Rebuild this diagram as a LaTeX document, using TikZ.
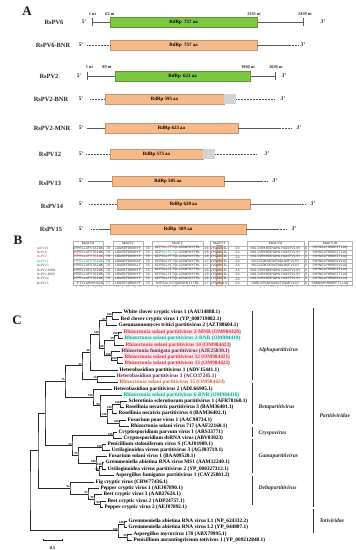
\documentclass[tikz,border=0pt]{standalone}
\usepackage{fontspec}
\setmainfont{Liberation Serif}
\setmonofont{Liberation Mono}
\usetikzlibrary{calc}
\definecolor{rdgreen}{HTML}{7DC843}
\definecolor{rdorange}{HTML}{F6B98A}
\definecolor{rdgrey}{HTML}{D3D3D3}
\definecolor{rsred}{HTML}{D2383A}
\definecolor{rspink}{HTML}{FDE3EA}
\definecolor{rsteal}{HTML}{1FA88C}
\definecolor{rscyan}{HTML}{DDF8F8}
\definecolor{rspurple}{HTML}{6B1F4F}
\definecolor{rsorange}{HTML}{D9602A}
\newcommand\leaf[5][]{\coordinate (#2) at ({#3-1},#4);\node[tx,#1] (#2-t) at (#3,#4) {#5};}
\newcommand\jn[5][]{\path let \p1=(#4), \p2=(#5) in (#3pt,{(\y1+\y2)/2}) coordinate (#2);%
  \draw[br] (#4) -| (#2) |- (#5);%
  \if\relax\detokenize{#1}\relax\else\node[bs] (#2-bs) at (#2) {#1};\fi}
\newcommand\arow[9]{%
  \pgfmathsetmacro\ry{248+4.4*(#1-1)}%
  \node[alab,#9] (r#1-l) at (37,\ry) {#2};%
  \foreach \xa/\xb in {73/103,103/113,113/143,143/152,152/203,203/210,210/228,228/247,247/304,304/308,308/352}{\draw[cell] (\xa,{\ry-2.2}) rectangle (\xb,{\ry+2.2});}%
  \node[al] (r#1-b1) at (88,\ry) {#3};%
  \node[al] (r#1-b2) at (128,\ry) {#4};%
  \node[al] (r#1-b3) at (177.5,\ry) {#5};%
  \node[al] (r#1-b4) at (219,\ry) {#6};%
  \node[al] (r#1-b5) at (275.5,\ry) {#7};%
  \node[al] (r#1-b6) at (330,\ry) {#8};}
\newcommand\agap[6]{%
  \pgfmathsetmacro\ry{248+4.4*(#1-1)}%
  \node[al] (r#1-g1) at (108,\ry) {#2};%
  \node[al] (r#1-g2) at (147.5,\ry) {#3};%
  \node[al] (r#1-g3) at (206.5,\ry) {#4};%
  \node[al] (r#1-g4) at (237.5,\ry) {#5};%
  \node[al] (r#1-g5) at (306,\ry) {#6};}
\begin{document}
\begin{tikzpicture}[x=1pt,y=-1pt,
  gl/.style={draw=black!65, line width=0.55pt},
  dl/.style={gl, dash pattern=on 0.9pt off 0.6pt},
  tl/.style={draw=black!55, line width=0.9pt},
  gbox/.style={fill=rdgreen, draw=rdgreen!75!black, line width=0.3pt, minimum height=10pt, inner sep=0pt, font=\fontsize{4.9}{5}\selectfont\bfseries},
  obox/.style={fill=rdorange, draw=rdorange!80!black, line width=0.3pt, minimum height=10pt, inner sep=0pt, font=\fontsize{4.9}{5}\selectfont\bfseries},
  ybox/.style={fill=rdgrey, draw=none, minimum height=10pt, inner sep=0pt},
  glab/.style={font=\fontsize{6.4}{7}\selectfont\bfseries, text=black!85},
  fiv/.style={font=\fontsize{5.4}{6}\selectfont\bfseries, text=black!85},
  thr/.style={font=\fontsize{5.6}{6}\selectfont\bfseries\itshape, text=black!85},
  ntl/.style={font=\fontsize{4.3}{5}\selectfont\bfseries, text=black!85},
  panel/.style={font=\fontsize{13}{14}\selectfont\bfseries, text=black!90},
  alab/.style={anchor=west, font=\fontsize{3.4}{3.5}\selectfont, text=black!75, inner sep=0pt},
  al/.style={font=\fontsize{3.6}{3.6}\ttfamily, text=black!75, inner sep=0pt},
  cell/.style={draw=black!30, line width=0.15pt},
  mot/.style={font=\fontsize{3.2}{3.5}\selectfont\bfseries, text=black!70, inner sep=0pt},
  tx/.style={anchor=west, font=\fontsize{5.3}{5.5}\selectfont\bfseries, inner sep=0.4pt},
  hr/.style={text=rsred, fill=rspink},
  hg/.style={text=rsteal, fill=rscyan},
  hp/.style={text=rspurple, fill=rspink},
  ho/.style={text=rsorange},
  hpu/.style={text=rspurple},
  br/.style={draw=black!85, line width=0.45pt},
  bs/.style={font=\fontsize{3}{3}\selectfont\bfseries, inner sep=0.2pt, anchor=south east},
  brk/.style={draw=black!80, line width=0.7pt},
  clade/.style={anchor=west, font=\fontsize{5.6}{6}\selectfont\bfseries\itshape, text=black!85}]
\fill[white] (0,0) rectangle (356,550);
\useasboundingbox (0,0) rectangle (356,550);
% ================= A =================
\node[panel] (pA) at (27,11) {A};
% RsPV6
\node[glab] (l1) at (54,22) {RsPV6};
\node[fiv] (l1-5) at (84,22) {5'};
\coordinate (l1-a) at (92,22); \coordinate (l1-b) at (303,22);
\draw[gl] (l1-a) -- (l1-b);
\draw[gl] (92,18) -- (92,26); \draw[gl] (303,18) -- (303,26);
\node[gbox, minimum width=147pt] (l1-box) at (183.5,22) {RdRp\ \ 757 aa};
\node[ntl] (l1-n1) at (92.5,14.5) {1 nt};
\node[ntl] (l1-n2) at (110,14.5) {62 nt};
\node[ntl] (l1-n3) at (254,14.5) {2335 nt};
\node[ntl] (l1-n4) at (305,14.5) {2439 nt};
\node[thr] (l1-3) at (323,22) {3'};
% RsPV6-BNR
\node[glab] (l2) at (53,45) {RsPV6-BNR};
\node[fiv] (l2-5) at (81,45) {5'};
\node[obox, minimum width=147pt] (l2-box) at (183.5,45) {RdRp\ \ 757 aa};
\draw[dl] (87,45) -- (l2-box.west);
\draw[gl] (l2-box.east) -- (290,45);
\draw[dl] (290,45) -- (299,45);
\node[thr] (l2-3) at (303,45) {3'};
% RsPV2
\node[glab] (l3) at (49,76) {RsPV2};
\node[fiv] (l3-5) at (79,76) {5'};
\draw[gl] (87,76) -- (275,76);
\draw[gl] (87,72) -- (87,80); \draw[gl] (275,72) -- (275,80);
\node[gbox, minimum width=135pt] (l3-box) at (182.5,76) {RdRp\ \ 623 aa};
\node[ntl] (l3-n1) at (89.5,67.5) {1 nt};
\node[ntl] (l3-n2) at (107,67.5) {89 nt};
\node[ntl] (l3-n3) at (248,67.5) {1960 nt};
\node[ntl] (l3-n4) at (276,67.5) {2020 nt};
\node[thr] (l3-3) at (284,76) {3'};
% RsPV2-BNR
\node[glab] (l4) at (51,99.5) {RsPV2-BNR};
\node[fiv] (l4-5) at (81,99) {5'};
\node[obox, minimum width=119pt] (l4-box) at (164.5,99) {RdRp 595 aa};
\node[ybox, minimum width=12pt] (l4-g) at (230,99) {};
\draw[dl] (90,99) -- (l4-box.west);
\draw[dl] (l4-g.east) -- (275,99);
\node[thr] (l4-3) at (283,99) {3'};
% RsPV2-MNR
\node[glab] (l5) at (52,128) {RsPV2-MNR};
\node[fiv] (l5-5) at (81,128) {5'};
\node[obox, minimum width=133pt] (l5-box) at (171.5,128) {RdRp 623 aa};
\draw[gl] (87,128) -- (l5-box.west);
\draw[gl] (l5-box.east) -- (280,128);
\draw[dl] (280,128) -- (292,128);
\node[thr] (l5-3) at (299,128) {3'};
% RsPV12
\node[glab] (l6) at (50,154) {RsPV12};
\node[fiv] (l6-5) at (81,154) {5'};
\node[obox, minimum width=93pt] (l6-box) at (156.5,154) {RdRp 575 aa};
\node[ybox, minimum width=12pt] (l6-g) at (209,154) {};
\draw[dl] (86,154) -- (l6-box.west);
\draw[dl] (l6-g.east) -- (257,154);
\node[thr] (l6-3) at (267,154) {3'};
% RsPV13
\node[glab] (l7) at (50,183) {RsPV13};
\node[fiv] (l7-5) at (81,181) {5'};
\node[obox, minimum width=112pt] (l7-box) at (168,181) {RdRp 585 aa};
\draw[gl] (88,181) -- (l7-box.west);
\draw[gl] (l7-box.east) -- (262,181);
\draw[dl] (262,181) -- (268,181);
\node[thr] (l7-3) at (275,181) {3'};
% RsPV14
\node[glab] (l8) at (52,206) {RsPV14};
\node[fiv] (l8-5) at (81,204) {5'};
\node[obox, minimum width=133pt] (l8-box) at (183.5,204) {RdRp 620 aa};
\draw[dl] (89,204) -- (l8-box.west);
\draw[tl] (l8-box.east) -- (300,204);
\draw[dl] (300,204) -- (306,204);
\node[thr] (l8-3) at (313,204) {3'};
% RsPV15
\node[glab] (l9) at (51,229) {RsPV15};
\node[fiv] (l9-5) at (81,229) {5'};
\node[obox, minimum width=136pt] (l9-box) at (178,229) {RdRp\ \ 589 aa};
\draw[dl] (91,229) -- (99,229);
\draw[gl] (99,229) -- (l9-box.west);
\draw[gl] (l9-box.east) -- (278,229);
\draw[dl] (278,229) -- (287,229);
\node[thr] (l9-3) at (294,229) {3'};
% ================= B =================
\node[panel] (pB) at (18,240) {B};
\fill[orange!20] (216.3,245.6) rectangle (222.6,285.6);
\draw[brown!70, line width=0.25pt] (216.3,245.6) rectangle (222.6,285.6);
\foreach \xa/\xb/\mt/\k in {73/103/Motif III/1,113/143/Motif IV/2,152/203/Motif V/3,210/228/Motif VI/4,247/304/Motif VII/5,308/352/Motif VIII/6}{
  \draw[cell] (\xa,241) rectangle (\xb,245.6);
  \node[mot] (mh\k) at ({(\xa+\xb)/2},243.3) {\mt};}
\arow{1}{mCV1S}{DYPRLLAFVTAIWK}{LDWSRFDKKHYF}{GIP\textcolor{rsred}{SGLYTTQL}LDSWYNYTML}{VYGDDSIL}{NSLIVRKHSEVWHLYAGSFVLSY}{SHYNGLPHRDEITLAQ}{}
\agap{1}{78}{78}{16}{24}{5}
\arow{2}{RsV1S}{DYPRLLAFVTAIWK}{LDWSRFDKKHYF}{GIP\textcolor{rsteal}{SGLYTTQL}LDSWYNYTML}{VYGDDSIL}{NSLIVRKHSEVWHLYAGSFVLSY}{SHYNGLPHRDEITLAQ}{}
\agap{2}{78}{78}{16}{24}{5}
\arow{3}{RsPV2}{\textcolor{rsred}{DYPRLLAFVTAIWK}}{LDWSRFDKKHYF}{GIPSGLYTTQLLDSWYNYTML}{VYGDDSIL}{NSLIVRKHSEVWHLYAGSFVLSY}{SHYNGLPHRDEITLAQ}{text=rsred}
\agap{3}{78}{78}{16}{24}{5}
\arow{4}{RsPV12}{\textcolor{rsteal}{DYPRLLAFVTAIWK}}{LDWARFDKKHAF}{GIPSGLYITQLLDSWYNYTML}{VVGDDSIL}{NSIISDKSEVWTNDLNGFVLSY}{SHYNGLPHRDESVLAQ}{text=rsteal}
\agap{4}{76}{78}{17}{24}{5}
\arow{5}{RsPV13}{DYPRLLAFVTALWK}{LDWSRFDKKALF}{GIPSGLYITQLLDSWYNYTML}{VVGDDSIL}{NSIISDKSEVWTNDLNGFVLSY}{SHYNGLPHRDESVLAQ}{}
\agap{5}{76}{78}{17}{24}{5}
\arow{6}{RsPV2-MNR}{DYPRLLAFVTAIWK}{LDWSKFDKKHYF}{GIPSGLYITQLLDSWYNYTML}{VYGDDSIL}{NSLIVRKHSEVWHLYAGSFVLSY}{SHYNGLPHRDEITLAQ}{}
\agap{6}{78}{78}{16}{24}{5}
\arow{7}{RsPV2-BNR}{DYPRLLAFVTAIWK}{LDWSKFDKKHYF}{GIPSGLYITQLLDSWYNYTML}{VYGDDSIL}{NSLIVRKHSEVWHLYAGSFVLSY}{SHYNGLPHRDEITLAQ}{}
\agap{7}{78}{78}{16}{24}{5}
\arow{8}{RsPV14}{DYPRLLAFVTAIWK}{LDWSRFDKKHYF}{GIPSGLYITQLLDSWYNYTML}{VYGDDSIL}{NSLIVRKHSEVWHLYAGSFVLSY}{SHYNGLPHRDESVLAQ}{}
\agap{8}{78}{78}{16}{24}{5}
\arow{9}{RsPV15}{--PITLAHVHLWLR}{LDWSEYDRKHYF}{GVPSGLVITQWADYNIYTML}{VYGDDALV}{SNRLSPSNFGNSKTSQWEVLSY}{SHNNGMPHRDPFTLLAQ}{}
\agap{9}{77}{79}{17}{24}{5}
\node[al] (cs1) at (88,287.6) {~*~**~:*~*:**:};
\node[al] (cs2) at (128,287.6) {**~:~**~*:~*};
\node[al] (cs3) at (177.5,287.6) {*:~***~:*~~~*~*~**:~};
\node[al] (cs4) at (219,287.6) {*~***~:~};
\node[al] (cs5) at (275.5,287.6) {~~~:~.~~**~:~~~:***~*};
\node[al] (cs6) at (330,287.6) {**~**~****~:~*~*};
% ================= C =================
\node[panel] (pC) at (17,320) {C};
\leaf{a1}{123}{312.5}{White clover cryptic virus 1 (AAU14888.1)}
\leaf{a2}{120}{319}{Red clover cryptic virus 1 (YP\_008719882.1)}
\leaf{a3}{118}{325.5}{Gaeumannomyces tritici partitivirus 2 (AZT88604.1)}
\leaf[hr]{a4}{123}{332}{Rhizoctonia solani partitivirus 2-MNR (OM984420)}
\leaf[hg]{a5}{124}{338.5}{Rhizoctonia solani partitivirus 2-BNR (OM984419)}
\leaf[hr]{a6}{125}{345}{Rhizoctonia solani partitivirus 14 (OM984423)}
\leaf[hp]{a7}{121}{351}{Rhizoctonia fumigata partitivirus (AJE25830.1)}
\leaf[hr]{a8}{124}{357}{Rhizoctonia solani partitivirus 12 (OM984421)}
\leaf[hr]{a9}{124}{363.5}{Rhizoctonia solani partitivirus 13 (OM984422)}
\leaf{a10}{119}{370}{Heterobasidion partitivirus 1 (ADV15441.1)}
\leaf[hpu]{a11}{116}{376}{Heterobasidion partitivirus 3 (ACO37245.1)}
\leaf[ho]{a12}{119}{382}{Rhizoctonia solani partitivirus 15 (OM984424)}
\leaf{a13}{113}{389}{Heterobasidion partitivirus 2 (ADL66905.1)}
\leaf[hg]{a14}{123}{395}{Rhizoctonia solani partitivirus 6-BNR (OM984418)}
\leaf{a15}{128}{401}{Sclerotinia sclerotiorum partitivirus 1 (AFR78160.1)}
\leaf{a16}{125}{407}{Rosellinia necatrix partitivirus 3 (BAM36401.1)}
\leaf{a17}{118}{413.5}{Rosellinia necatrix partitivirus 4 (BAM36402.1)}
\leaf{a18}{127}{420}{Fusarium poae virus 1 (AAC98734.1)}
\leaf{a19}{130}{426}{Rhizoctonia solani virus 717 (AAF22160.1)}
\leaf{a20}{118}{432.5}{Cryptosporidium parvum virus 1 (ARS33771)}
\leaf{a21}{123}{438.5}{Cryptosporidium dsRNA virus (ABV83023)}
\leaf{a22}{107}{444.5}{Penicillium stoloniferum virus S (CAJ01909.1)}
\leaf{a23}{111}{450.5}{Ustilaginoidea virens partitivirus 3 (AGJ03719.1)}
\leaf{a24}{108}{456}{Fusarium solani virus 1 (BAA09520.1)}
\leaf{a25}{105}{462.5}{Gremmeniella abietina RNA virus MS1 (AAM12240.1)}
\leaf{a26}{107}{469}{Ustilaginoidea virens partitivirus 2 (YP\_008327312.1)}
\leaf{a27}{115}{475.5}{Aspergillus fumigatus partitivirus 1 (CAY25801.2)}
\leaf{a28}{95}{482}{Fig cryptic virus (CBW77436.1)}
\leaf{a29}{100}{488.5}{Pepper cryptic virus 1 (AEJ07890.1)}
\leaf{a30}{103}{494.5}{Beet cryptic virus 3 (AAB27624.1)}
\leaf{a31}{107}{501}{Beet cryptic virus 2 (ADP24757.1)}
\leaf{a32}{104}{507}{Pepper cryptic virus 2 (AEJ07892.1)}
\leaf{a33}{128}{521}{Gremmeniella abietina RNA virus L1 (NP\_624332.2)}
\leaf{a34}{128}{527.5}{Gremmeniella abietina RNA virus L2 (YP\_044807.1)}
\leaf{a35}{133}{534}{Aspergillus mycovirus 178 (ABX79995.1)}
\leaf{a36}{133}{540}{Penicillium aurantiogriseum totivirus 1 (YP\_009212848.1)}
\jn[100]{n1}{112}{a1}{a2}
\jn[97]{n2}{106}{n1}{a3}
\jn[100]{n3}{118}{a4}{a5}
\jn[99]{n4}{114}{n3}{a6}
\jn[100]{n5}{117}{a8}{a9}
\jn[100]{n6}{111}{a7}{n5}
\jn[100]{n7}{104}{n4}{n6}
\jn[100]{n8}{99}{n2}{n7}
\jn[98]{n9}{90}{n8}{a10}
\jn[56]{n10}{97}{a11}{a12}
\jn[93]{n11}{82}{n9}{n10}
\jn[100]{n12}{120}{a15}{a16}
\jn[100]{n13}{112}{n12}{a17}
\jn[100]{n14}{119}{a18}{a19}
\jn[100]{n15}{107}{n13}{n14}
\jn[99]{n16}{100}{a14}{n15}
\jn[100]{n17}{93}{a13}{n16}
\jn[76]{n18}{65}{n11}{n17}
\jn[100]{n19}{113}{a20}{a21}
\jn[100]{n20}{102}{a22}{a23}
\jn[100]{n21}{102}{a25}{a26}
\jn[96]{n22}{99}{n21}{a27}
\jn[100]{n23}{96}{a24}{n22}
\jn[99]{n24}{78}{n20}{n23}
\jn[63]{n25}{72}{n19}{n24}
\jn{n26}{45}{n18}{n25}
\jn[96]{n27}{100}{a31}{a32}
\jn[90]{n28}{94}{a30}{n27}
\jn[95]{n29}{88}{a29}{n28}
\jn[94]{n30}{70}{a28}{n29}
\jn{n31}{38}{n26}{n30}
\jn[100]{n32}{124}{a33}{a34}
\jn[96]{n33}{127}{a35}{a36}
\jn[100]{n34}{118}{n32}{n33}
\jn{root}{30}{n31}{n34}
% clade brackets
\draw[brk] (252,311) -- (252,380);
\node[clade] (c-alpha) at (255,350) {Alphapartitivirus};
\draw[brk] (252,383) -- (252,424);
\node[clade] (c-beta) at (255,407) {Betapartitivirus};
\draw[brk] (252,427) -- (252,437);
\node[clade] (c-crys) at (255,433) {Cryspovirus};
\draw[brk] (252,439) -- (252,473);
\node[clade] (c-gam) at (255,456) {Gamapartitivirus};
\draw[brk] (252,476) -- (252,505);
\node[clade] (c-del) at (255,488) {Deltapartitivirus};
\draw[brk] (313,308) -- (313,507);
\node[clade] (c-part) at (316,416) {Partitiviridae};
\draw[brk] (313,509) -- (313,533);
\node[clade] (c-toti) at (316,521) {Totiviridae};
% scale bar
\coordinate (sb-a) at (43,540); \coordinate (sb-b) at (62,540);
\draw[br] (sb-a) -- (sb-b);
\draw[br] (43,538.8) -- (43,541.2); \draw[br] (62,538.8) -- (62,541.2);
\node[font=\fontsize{4.2}{5}\selectfont\bfseries] (sb-l) at (52.5,548) {0.5};
\end{tikzpicture}
\end{document}
